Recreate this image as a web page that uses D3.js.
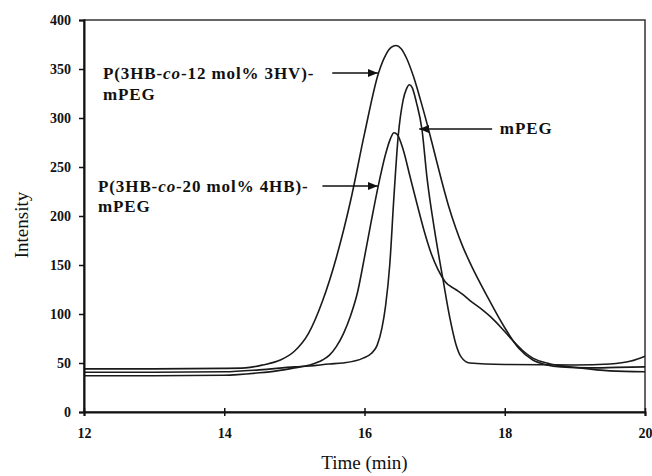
<!DOCTYPE html>
<html><head><meta charset="utf-8">
<script src="https://cdn.jsdelivr.net/npm/d3@7"></script>
<style>body{margin:0;background:#fff}svg{display:block}</style>
</head><body>
<svg id="c" width="652" height="476"></svg>
<script>
// Data (time in min, intensity)
const seriesHV = [[12,44],[13,44],[14,44.5],[14.3,45],[14.55,48],[14.8,53],[15.0,62],[15.2,80],[15.4,113],[15.6,158],[15.8,215],[16.0,284],[16.2,346],[16.3,364],[16.38,372],[16.45,374],[16.52,371],[16.6,361],[16.7,342],[16.8,318],[16.9,292],[17.0,264],[17.1,236],[17.2,210],[17.3,188],[17.4,169],[17.5,153],[17.75,118],[18.0,86],[18.2,65],[18.4,53],[18.6,48],[18.8,46],[19.2,45],[19.6,45.5],[20,46]];
const series4HB = [[12,37],[13,37],[14,37.5],[14.5,40],[14.75,42],[15.0,45],[15.22,48],[15.4,53],[15.5,58],[15.6,67],[15.7,80],[15.8,98],[15.9,122],[16.0,158],[16.1,196],[16.2,232],[16.3,263],[16.37,279],[16.42,285],[16.47,283],[16.55,268],[16.65,240],[16.75,212],[16.85,185],[16.95,162],[17.05,145],[17.15,133],[17.3,125],[17.4,120],[17.5,114],[17.65,106],[17.8,97],[17.95,86],[18.1,74],[18.25,63],[18.4,55],[18.6,50],[19.07,45],[19.5,42],[20,41]];
const seriesPEG = [[12,40.5],[13,40.5],[14,41],[14.5,43],[15.0,46],[15.22,47],[15.5,49],[15.69,50],[15.98,55],[16.1,60],[16.18,68],[16.25,86],[16.3,108],[16.36,150],[16.42,220],[16.48,281],[16.55,318],[16.6,330],[16.64,334],[16.68,331],[16.74,316],[16.82,288],[16.89,240],[17.0,185],[17.12,135],[17.22,95],[17.3,70],[17.38,56],[17.5,50],[18,48.5],[19,48],[19.5,49],[19.8,52],[20,57]];
const xTicks = [12,14,16,18,20];
const yTicks = [0,50,100,150,200,250,300,350,400];
const labels = [
  {lines:[["P(3HB-",false],["co",true],["-12 mol% 3HV)-",false]], t:12.27, v:340, v2:318},
  {lines:[["P(3HB-",false],["co",true],["-20 mol% 4HB)-",false]], t:12.2, v:225, v2:204}
];
const arrows = [
  {from:[15.54,345.9], to:[16.19,345.9]},
  {from:[15.40,230.6], to:[16.19,230.6]},
  {from:[17.82,288.8], to:[16.78,288.8]}
];
const pegLabel = {text:"mPEG", t:17.93, v:284};

const svg = d3.select("#c");
const L=84,R=645,T=20,B=412;
const x = d3.scaleLinear().domain([12,20]).range([L,R]);
const y = d3.scaleLinear().domain([0,400]).range([B,T]);
const serif = "'Liberation Serif','Times New Roman',serif";

svg.append("defs").append("marker").attr("id","ah").attr("viewBox","0 0 10 10")
  .attr("refX",10).attr("refY",5).attr("markerWidth",10).attr("markerHeight",10)
  .attr("markerUnits","userSpaceOnUse").attr("orient","auto")
  .append("path").attr("d","M0,1 L10,5 L0,9 Z").attr("fill","#111");

// frame
svg.append("rect").attr("x",L).attr("y",T).attr("width",R-L).attr("height",B-T)
  .attr("fill","none").attr("stroke","#333").attr("stroke-width",1.5);

// curves
const line = d3.line().x(d=>x(d[0])).y(d=>y(d[1])).curve(d3.curveMonotoneX);
[seriesHV, series4HB, seriesPEG].forEach(s=>{
  svg.append("path").datum(s).attr("d",line).attr("fill","none")
    .attr("stroke","#1a1a1a").attr("stroke-width",1.6).attr("stroke-linejoin","round");
});

// axes
const yAxis = svg.append("g").attr("transform",`translate(${L},0)`)
  .call(d3.axisLeft(y).tickValues(yTicks).tickSize(5).tickPadding(8).tickFormat(d3.format("d")));
const xAxis = svg.append("g").attr("transform",`translate(0,${B})`)
  .call(d3.axisBottom(x).tickValues(xTicks).tickSize(4).tickPadding(12).tickFormat(d3.format("d")));
[yAxis,xAxis].forEach(g=>{
  g.select(".domain").attr("stroke","#111").attr("stroke-width",2);
  g.selectAll(".tick line").attr("stroke","#111").attr("stroke-width",1.5);
  g.selectAll(".tick text").attr("font-family",serif).attr("font-size",14).attr("font-weight","bold").attr("fill","#111");
});
xAxis.selectAll(".tick line").attr("y1",-4);

// axis titles
svg.append("text").attr("x",(L+R)/2).attr("y",469).attr("text-anchor","middle")
  .attr("font-family",serif).attr("font-size",19).attr("fill","#111").text("Time (min)");
svg.append("text").attr("transform",`translate(28,225) rotate(-90)`).attr("text-anchor","middle")
  .attr("font-family",serif).attr("font-size",19).attr("fill","#111").text("Intensity");

// labels
const lblStyle = t => t.attr("font-family",serif).attr("font-size",17).attr("font-weight","bold")
  .attr("letter-spacing",0.9).attr("fill","#111");
labels.forEach(lb=>{
  const t = svg.append("text").attr("x",x(lb.t)).attr("y",y(lb.v)).call(lblStyle);
  lb.lines.forEach(([s,it])=>t.append("tspan").attr("font-style",it?"italic":"normal").text(s));
  svg.append("text").attr("x",x(lb.t)).attr("y",y(lb.v2)).call(lblStyle).text("mPEG");
});
svg.append("text").attr("x",x(pegLabel.t)).attr("y",y(pegLabel.v)).call(lblStyle).text(pegLabel.text);

arrows.forEach(a=>{
  svg.append("line").attr("x1",x(a.from[0])).attr("y1",y(a.from[1]))
    .attr("x2",x(a.to[0])).attr("y2",y(a.to[1]))
    .attr("stroke","#111").attr("stroke-width",1.6).attr("marker-end","url(#ah)");
});
</script>
</body></html>
